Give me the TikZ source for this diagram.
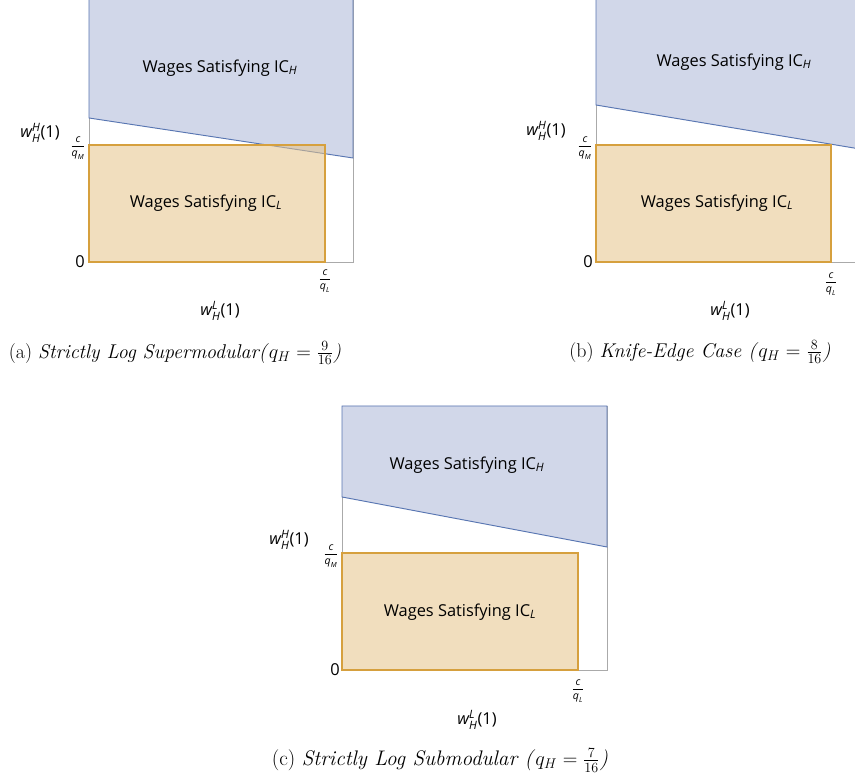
\documentclass[tikz,border=0pt]{standalone}
\usepackage{amsmath}
\usepackage{fontspec}
\newfontfamily\plotfont{Open Sans}
\usepackage{tikz}
\usetikzlibrary{positioning}
\usepackage{xcolor}

\definecolor{icHfill}{RGB}{209,215,233}
\definecolor{icHline}{RGB}{88,118,178}
\definecolor{icLfill}{RGB}{230,196,138}
\definecolor{icLline}{RGB}{214,160,62}
\definecolor{axisgray}{RGB}{170,170,170}

\newcommand{\wlab}[1]{$\textit{w}^{\textit{#1}}_{\textit{H}}$(1)}
\newcommand{\cq}[1]{$\dfrac{\textit{c}}{\textit{q}_{\textit{#1}}}$}

\tikzset{
    frame/.style={draw=axisgray, line width=0.6pt},
    icHregion/.style={fill=icHfill, draw=icHline, line width=0.8pt},
    icLregion/.style={fill=icLfill, fill opacity=0.55, draw=icLline, draw opacity=1, line width=1.1pt},
    lab/.style={font=\plotfont\fontsize{14}{16}\selectfont, inner sep=1pt},
    wlab/.style={font=\plotfont\fontsize{14}{16}\selectfont, inner sep=1pt},
    ticklab/.style={font=\plotfont\fontsize{9}{10}\selectfont, inner sep=0pt},
    subcap/.style={font=\fontsize{17}{20}\selectfont, inner sep=1pt}
}

\begin{document}
\begin{tikzpicture}[x=0.03cm, y=0.03cm]
    \clip (0, 0) rectangle (855, 784);
    \fill[white] (0, 0) rectangle (855, 784);

    % (a) supermodular
    \begin{scope}[shift={(89, 522)}]
        \draw[frame] (0, 0) rectangle (264, 264);
        \draw[icHregion] (0, 144) -- (0, 264) -- (264, 264) -- (264, 104) -- cycle;
        \draw[icLregion] (0, 0) rectangle (236, 117);
        \node[lab] (icHa) at (131, 194) {Wages Satisfying IC$_{\textit{H}}$};
        \node[lab] (icLa) at (117, 59) {Wages Satisfying IC$_{\textit{L}}$};
        \node[wlab] (wHa) at (-49, 129) {\wlab{H}};
        \node[ticklab] (cqMa) at (-11, 114) {\cq{M}};
        \node[lab] (zeroa) at (-9, 0) {0};
        \node[ticklab] (cqLa) at (236, -19) {\cq{L}};
        \node[wlab] (wLa) at (131, -49) {\wlab{L}};
        \node[subcap] (capa) at (86, -91) {(a) \textit{Strictly Log Supermodular(}$q_H = \frac{9}{16}$\textit{)}};
    \end{scope}

    % (b) knife-edge
    \begin{scope}[shift={(596, 522)}]
        \draw[frame] (0, 0) rectangle (264, 264);
        \draw[icHregion] (0, 157) -- (0, 264) -- (264, 264) -- (264, 113) -- cycle;
        \draw[icLregion] (0, 0) rectangle (235, 117);
        \node[lab] (icHb) at (138, 200) {Wages Satisfying IC$_{\textit{H}}$};
        \node[lab] (icLb) at (121, 59) {Wages Satisfying IC$_{\textit{L}}$};
        \node[wlab] (wHb) at (-50, 131) {\wlab{H}};
        \node[ticklab] (cqMb) at (-11, 114) {\cq{M}};
        \node[lab] (zerob) at (-8, 0) {0};
        \node[ticklab] (cqLb) at (235, -22) {\cq{L}};
        \node[wlab] (wLb) at (134, -49) {\wlab{L}};
        \node[subcap] (capb) at (104, -90) {(b) \textit{Knife-Edge Case (}$q_H = \frac{8}{16}$\textit{)}};
    \end{scope}

    % (c) submodular
    \begin{scope}[shift={(342, 114)}]
        \draw[frame] (0, 0) rectangle (265, 264);
        \draw[icHregion] (0, 173) -- (0, 264) -- (265, 264) -- (265, 123) -- cycle;
        \draw[icLregion] (0, 0) rectangle (236, 117);
        \node[lab] (icHc) at (125, 205) {Wages Satisfying IC$_{\textit{H}}$};
        \node[lab] (icLc) at (118, 58) {Wages Satisfying IC$_{\textit{L}}$};
        \node[wlab] (wHc) at (-53, 130) {\wlab{H}};
        \node[ticklab] (cqMc) at (-11, 114) {\cq{M}};
        \node[lab] (zeroc) at (-7, 0) {0};
        \node[ticklab] (cqLc) at (236, -21) {\cq{L}};
        \node[wlab] (wLc) at (135, -50) {\wlab{L}};
        \node[subcap] (capc) at (98, -90) {\fontsize{18}{21}\selectfont(c) \textit{Strictly Log Submodular (}$q_H = \frac{7}{16}$\textit{)}};
    \end{scope}
\end{tikzpicture}
\end{document}
